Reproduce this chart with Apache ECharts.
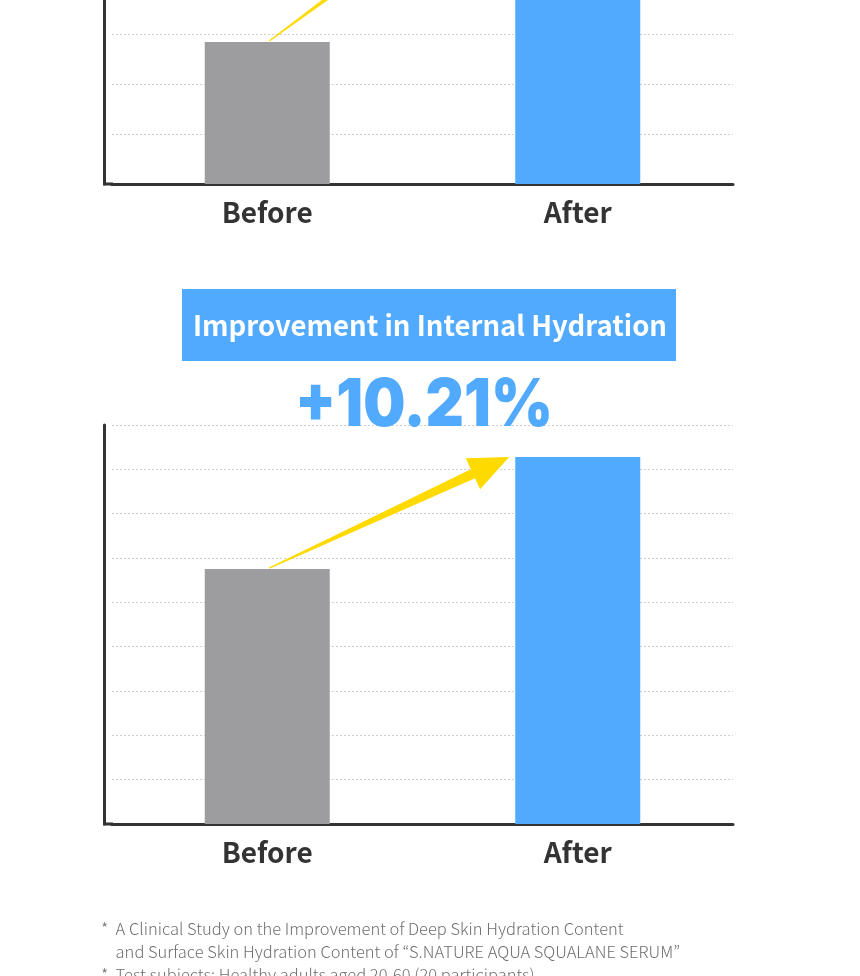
<!DOCTYPE html>
<html>
<head>
<meta charset="utf-8">
<script src="https://cdn.jsdelivr.net/npm/echarts@6/dist/echarts.min.js"></script>
<style>
  html, body { margin: 0; padding: 0; background: #fff; }
  #chart { width: 860px; height: 976px; }
</style>
</head>
<body>
<div id="chart"></div>
<script>
// data (arbitrary units, one unit = one gridline step)
var categories = ['Before', 'After'];
var surfaceValues = [2.84, 6.4];
var internalValues = [5.75, 8.28];
var surfaceMax = 3.68;   // top chart is cut by the page edge
var internalMax = 9;
var titleText = 'Improvement in Internal Hydration';
var changeText = '+10.21%';
var notes = [
    '*  A Clinical Study on the Improvement of Deep Skin Hydration Content',
    '    and Surface Skin Hydration Content of \u201cS.NATURE AQUA SQUALANE SERUM\u201d',
    '*  Test subjects: Healthy adults aged 20-60 (20 participants)'
];

var GREY = '#9d9d9f', BLUE = '#51aafe', YELLOW = '#ffda00', AXIS = '#333';
var GRID_LEFT = 112, Y_OFFSET = 8;

var myChart = echarts.init(document.getElementById('chart'));

function xAxisCfg(i) {
    return {
        gridIndex: i,
        type: 'category',
        data: categories,
        axisTick: { show: false },
        axisLine: { show: true, lineStyle: { color: AXIS, width: 3 } },
        axisLabel: {
            margin: 14,
            fontSize: 28,
            fontWeight: 'bold',
            fontFamily: 'Noto Sans CJK KR',
            color: '#333'
        }
    };
}

function yAxisCfg(i, max, showMax) {
    return {
        gridIndex: i,
        type: 'value',
        min: 0,
        max: max,
        interval: 1,
        offset: Y_OFFSET,
        axisLabel: { show: false },
        axisTick: { show: false },
        axisLine: { show: true, lineStyle: { color: AXIS, width: 3 } },
        splitLine: {
            show: true,
            showMaxLine: showMax,
            lineStyle: { color: '#cfcfcf', type: [2, 2], width: 1 }
        }
    };
}

function barSeries(i, values) {
    return {
        type: 'bar',
        xAxisIndex: i,
        yAxisIndex: i,
        barWidth: 125,
        silent: true,
        data: values.map(function (v, k) {
            return { value: v, itemStyle: { color: k === 0 ? GREY : BLUE } };
        })
    };
}

var option = {
    animation: false,
    grid: [
        { left: GRID_LEFT, width: 733 - GRID_LEFT, top: 0, height: 184 },
        { left: GRID_LEFT, width: 733 - GRID_LEFT, top: 425, height: 399 }
    ],
    xAxis: [xAxisCfg(0), xAxisCfg(1)],
    yAxis: [yAxisCfg(0, surfaceMax, false), yAxisCfg(1, internalMax, true)],
    series: [barSeries(0, surfaceValues), barSeries(1, internalValues)]
};
myChart.setOption(option);

// tapered yellow arrow from the Before bar top to the After bar top-left corner
function arrowShape(gi, values) {
    var p0 = myChart.convertToPixel({ xAxisIndex: gi, yAxisIndex: gi }, [categories[0], values[0]]);
    var p1 = myChart.convertToPixel({ xAxisIndex: gi, yAxisIndex: gi }, [categories[1], values[1]]);
    var start = [p0[0] + 2, p0[1] - 1];
    var tip = [p1[0] - 62.5 - 6, p1[1]];
    var dx = tip[0] - start[0], dy = tip[1] - start[1];
    var len = Math.sqrt(dx * dx + dy * dy);
    var u = [dx / len, dy / len], n = [-u[1], u[0]];
    var headLen = 40, headHalf = 17, shaftHalf = 5, tailHalf = 0.6;
    var base = [tip[0] - u[0] * headLen, tip[1] - u[1] * headLen];
    function off(p, w) { return [p[0] + n[0] * w, p[1] + n[1] * w]; }
    return {
        type: 'polygon',
        silent: true,
        z: 20,
        shape: {
            points: [
                off(start, tailHalf), off(base, shaftHalf), off(base, headHalf), tip,
                off(base, -headHalf), off(base, -shaftHalf), off(start, -tailHalf)
            ]
        },
        style: { fill: YELLOW }
    };
}

// close the gap between the offset y axis and the x axis line
function cornerPiece(gi) {
    var origin = myChart.convertToPixel({ xAxisIndex: gi, yAxisIndex: gi }, [0, 0]);
    return {
        type: 'line', silent: true, z: 10,
        shape: { x1: GRID_LEFT - Y_OFFSET - 1, y1: origin[1], x2: GRID_LEFT + 1, y2: origin[1] },
        style: { stroke: AXIS, lineWidth: 3 }
    };
}

var graphics = [
    arrowShape(0, surfaceValues),
    arrowShape(1, internalValues),
    cornerPiece(0),
    cornerPiece(1),
    {
        type: 'rect', silent: true,
        shape: { x: 182, y: 289, width: 494, height: 72 },
        style: { fill: BLUE }
    },
    {
        type: 'text', silent: true, x: 430, y: 326,
        style: {
            text: titleText, fill: '#fff', fontSize: 27.5, fontWeight: 'bold',
            fontFamily: 'Noto Sans CJK KR', align: 'center', verticalAlign: 'middle'
        }
    },
    {
        type: 'text', silent: true, x: 424, y: 406, scaleX: 0.9,
        style: {
            text: changeText, fill: BLUE, fontSize: 66, fontWeight: 900,
            fontFamily: 'Inter', align: 'center', verticalAlign: 'middle'
        }
    }
];
notes.forEach(function (t, i) {
    graphics.push({
        type: 'text', silent: true, x: 101, y: 929 + i * 23,
        style: {
            text: t, fill: '#6f6f6f', fontSize: 16.5, fontWeight: 300,
            fontFamily: 'Noto Sans CJK KR', verticalAlign: 'middle'
        }
    });
});
myChart.setOption({ graphic: graphics });
</script>
</body>
</html>
